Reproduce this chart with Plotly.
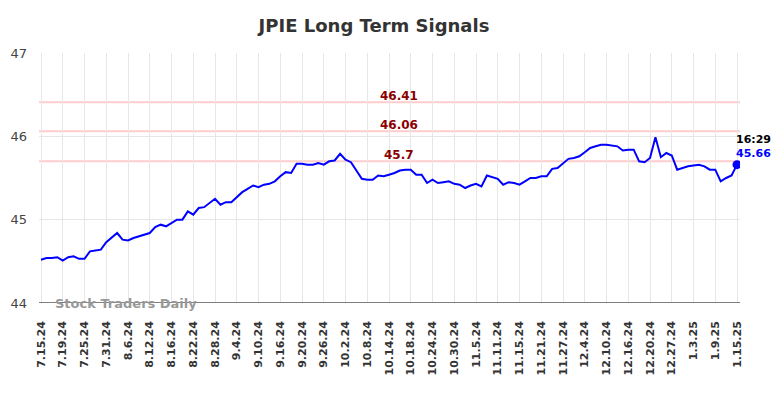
import pandas as pd
import plotly.graph_objects as go

# ---- data ----
holidays = ["2024-09-02", "2024-11-28", "2024-12-25", "2025-01-01"]
days = [d for d in pd.bdate_range("2024-07-15", "2025-01-15") if d.strftime("%Y-%m-%d") not in holidays]
dates = [f"{d.month}.{d.day}.{d.strftime('%y')}" for d in days]

prices = [
    44.52, 44.54, 44.54, 44.55, 44.51, 44.55, 44.56, 44.53, 44.53, 44.62,
    44.63, 44.64, 44.73, 44.78, 44.84, 44.76, 44.75, 44.78, 44.80, 44.82,
    44.84, 44.91, 44.94, 44.92, 44.96, 45.00, 45.00, 45.10, 45.06, 45.14,
    45.15, 45.20, 45.25, 45.18, 45.21, 45.21, 45.27, 45.33, 45.37, 45.41,
    45.39, 45.42, 45.43, 45.46, 45.52, 45.57, 45.56, 45.67, 45.67, 45.66,
    45.66, 45.68, 45.66, 45.70, 45.71, 45.79, 45.72, 45.69, 45.59, 45.49,
    45.48, 45.48, 45.53, 45.52, 45.54, 45.56, 45.59, 45.60, 45.60, 45.54,
    45.54, 45.44, 45.48, 45.44, 45.45, 45.46, 45.43, 45.42, 45.38, 45.41,
    45.43, 45.40, 45.53, 45.51, 45.49, 45.42, 45.45, 45.44, 45.42, 45.46,
    45.50, 45.50, 45.52, 45.52, 45.61, 45.62, 45.68, 45.73, 45.74, 45.76,
    45.81, 45.86, 45.88, 45.90, 45.90, 45.89, 45.88, 45.83, 45.84, 45.84,
    45.70, 45.69, 45.74, 45.99, 45.75, 45.80, 45.77, 45.60, 45.62, 45.64,
    45.65, 45.66, 45.64, 45.60, 45.60, 45.46, 45.50, 45.53, 45.66,
]

signal_levels = [46.41, 46.06, 45.7]
signal_labels = ["46.41", "46.06", "45.7"]
y_ticks = [44, 45, 46, 47]
last_time = "16:29"

tick_idx = list(range(0, len(dates), 4))
tick_text = [dates[i] for i in tick_idx]

fig = go.Figure()

fig.add_trace(go.Scatter(
    x=list(range(len(dates))), y=prices, mode="lines",
    line=dict(color="#0000ff", width=2), hoverinfo="skip", showlegend=False,
))
fig.add_trace(go.Scatter(
    x=[len(dates) - 1], y=[prices[-1]], mode="markers",
    marker=dict(color="#0000ff", size=9), showlegend=False,
))

for lvl, lab in zip(signal_levels, signal_labels):
    fig.add_shape(type="line", xref="paper", x0=0, x1=1, yref="y", y0=lvl, y1=lvl,
                  line=dict(color="rgba(255,0,0,0.2)", width=2), layer="below")
    fig.add_annotation(x=65.8, y=lvl, xref="x", yref="y", text=f"<b>{lab}</b>",
                       showarrow=False, yanchor="bottom", yshift=-2.5,
                       font=dict(family="DejaVu Sans", size=12, color="#8b0000"))

fig.add_annotation(x=len(dates) - 1, y=prices[-1], xref="x", yref="y",
                   text=f"<b>{last_time}</b>", showarrow=False, xanchor="left",
                   xshift=-3, yshift=25, font=dict(family="DejaVu Sans", size=11, color="#000000"))
fig.add_annotation(x=len(dates) - 1, y=prices[-1], xref="x", yref="y",
                   text=f"<b>{prices[-1]:.2f}</b>", showarrow=False, xanchor="left",
                   xshift=-3, yshift=11, font=dict(family="DejaVu Sans", size=11, color="#0000ff"))

fig.add_annotation(x=0.02, y=44, xref="paper", yref="y", text="<b>Stock Traders Daily</b>",
                   showarrow=False, xanchor="left", yanchor="middle",
                   font=dict(family="DejaVu Sans", size=13, color="#999999"))

# page body has an 8px default margin, so margins are offset to compensate
fig.update_layout(
    width=784, height=398,
    margin=dict(l=31, r=52, t=45, b=103, autoexpand=False),
    paper_bgcolor="white", plot_bgcolor="white",
    title=dict(text="<b>JPIE Long Term Signals</b>", x=(374 - 8) / 784, xanchor="center",
               y=1 - (26 - 8) / 398, yanchor="middle",
               font=dict(family="DejaVu Sans", size=18, color="#333333")),
    font=dict(family="DejaVu Sans"),
)
fig.update_xaxes(
    range=[-0.37, len(dates) - 1 + 0.55],
    tickmode="array", tickvals=tick_idx, ticktext=[f"<b>{t}</b>" for t in tick_text],
    tickangle=-90, tickfont=dict(size=11, color="#333333"),
    showgrid=True, gridcolor="#e6e6e6", gridwidth=1, zeroline=False,
    showline=False, ticks="", ticklabelstandoff=15,
)
fig.update_yaxes(
    range=[44, 47], tickvals=y_ticks, ticktext=[str(v) for v in y_ticks],
    tickfont=dict(size=13, color="#444444"),
    showgrid=True, gridcolor="#e6e6e6", gridwidth=1, zeroline=False,
    ticks="", ticklabelstandoff=11,
)
fig.add_shape(type="line", xref="paper", x0=0, x1=1, yref="y", y0=44, y1=44,
              line=dict(color="#555555", width=1.5))

fig.write_html("out.html")
